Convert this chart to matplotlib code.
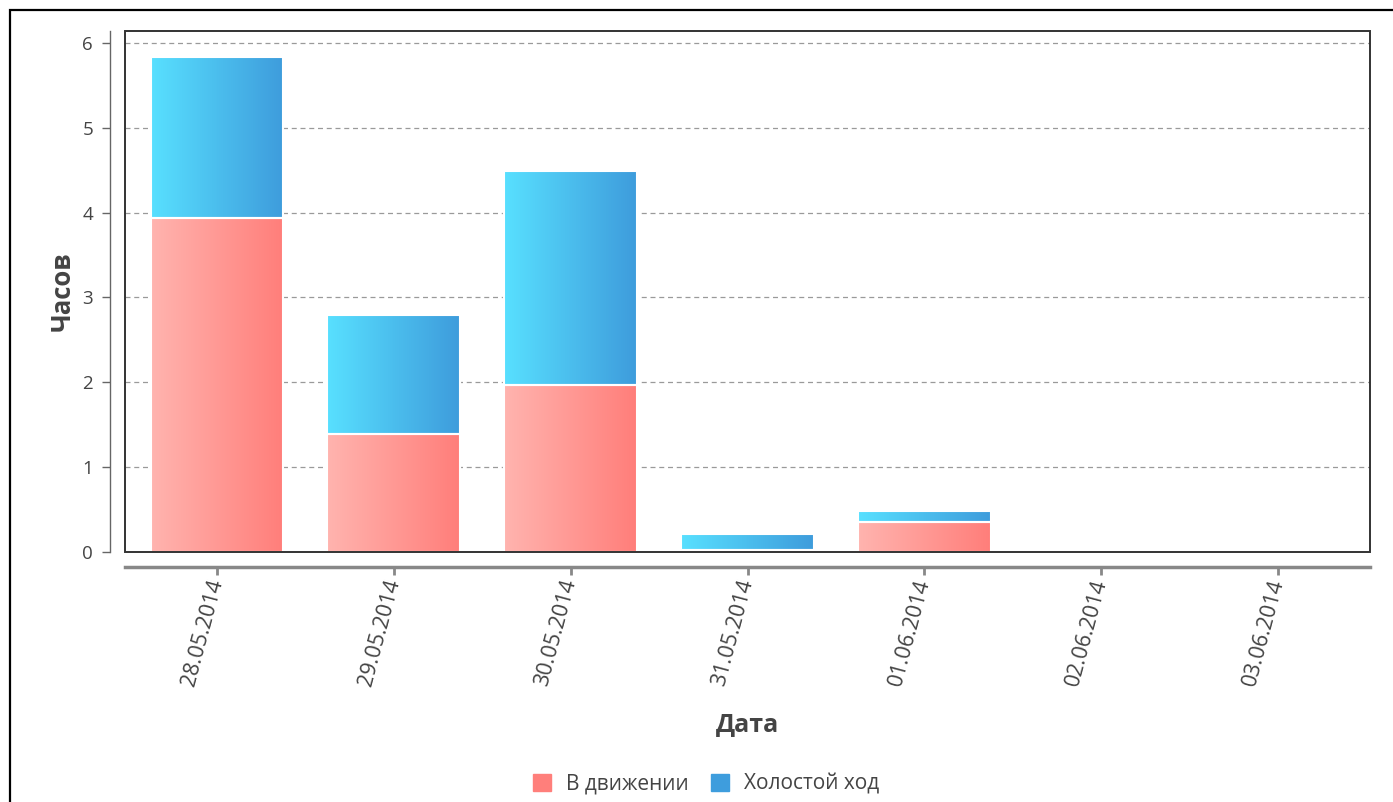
import numpy as np
import matplotlib
matplotlib.use('Agg')
from matplotlib import pyplot as plt
from matplotlib.patches import Rectangle
from matplotlib.colors import LinearSegmentedColormap

plt.rcParams['font.family'] = ['Open Sans', 'DejaVu Sans']

# data
dates = ['28.05.2014', '29.05.2014', '30.05.2014', '31.05.2014',
         '01.06.2014', '02.06.2014', '03.06.2014']
moving = [3.94, 1.39, 1.97, 0.02, 0.35, 0.0, 0.0]
idle = [1.89, 1.40, 2.52, 0.19, 0.13, 0.0, 0.0]
series_names = ['В движении', 'Холостой ход']

red_cmap = LinearSegmentedColormap.from_list('r', ['#FFB4AF', '#FF7E7A'])
blue_cmap = LinearSegmentedColormap.from_list('b', ['#58E0FF', '#3E9CDC'])

W, H = 1393, 802
fig = plt.figure(figsize=(W / 100, H / 100), dpi=100)
ax = fig.add_axes([125 / W, 1 - 552 / H, (1370 - 125) / W, (552 - 31) / H])

# outer frame of the widget
fig.patches.append(Rectangle((9.5 / W, -0.1), 1.2, 1 - 9.5 / H + 0.1,
                             transform=fig.transFigure, fill=False,
                             edgecolor='black', linewidth=1.6))

x = np.arange(len(dates))
bw = 0.75
grad = np.linspace(0, 1, 256).reshape(1, -1)

for i in range(len(dates)):
    x0, x1 = x[i] - bw / 2, x[i] + bw / 2
    b = 0
    for val, cm in ((moving[i], red_cmap), (idle[i], blue_cmap)):
        if val > 0:
            ax.imshow(grad, cmap=cm, extent=[x0, x1, b, b + val],
                      aspect='auto', zorder=3, interpolation='bilinear')
            ax.add_patch(Rectangle((x0, b), bw, val, fill=False,
                                   edgecolor='white', linewidth=1.5, zorder=4))
        b += val

ax.set_xlim(-0.52, len(dates) - 0.48)
ax.set_ylim(0, 6.14)
ax.set_yticks(range(0, 7))
ax.grid(axis='y', linestyle=(0, (4, 3)), color='#9a9a9a', linewidth=0.9, zorder=1)

for s in ('top', 'right'):
    ax.spines[s].set_visible(False)
ax.spines['left'].set_position(('outward', 11))
ax.spines['left'].set_color('#666666')
ax.spines['left'].set_linewidth(1)
ax.spines['bottom'].set_position(('outward', 11))
ax.spines['bottom'].set_color('#888888')
ax.spines['bottom'].set_linewidth(2.5)
ax.add_patch(Rectangle((0, 0), 1, 1, transform=ax.transAxes, fill=False,
                       edgecolor='#333333', linewidth=1.4, zorder=5, clip_on=False))

ax.set_xticks(x)
ax.set_xticklabels(dates, rotation=75, ha='right', va='center', rotation_mode='anchor')
ax.tick_params(axis='x', length=6, width=2, color='#888888', labelsize=15.5,
               labelcolor='#444444', pad=3)
ax.tick_params(axis='y', length=6, width=1, color='#666666', labelsize=13.5,
               labelcolor='#444444', pad=6)

ax.set_ylabel('Часов', fontsize=18.5, fontweight='bold', color='#444444', labelpad=5)
ax.set_xlabel('Дата', fontsize=18, fontweight='bold', color='#444444', labelpad=17)

handles = [Rectangle((0, 0), 1, 1, color='#FF7F7B'),
           Rectangle((0, 0), 1, 1, color='#3E9DDD')]
fig.legend(handles, series_names, loc='center', bbox_to_anchor=(706 / W, 1 - 784 / H),
           ncol=2, frameon=False, fontsize=15, handlelength=0.85, handleheight=0.85,
           handletextpad=0.7, columnspacing=1.1, labelcolor='#444444')

fig.savefig('out.png', dpi=100)
